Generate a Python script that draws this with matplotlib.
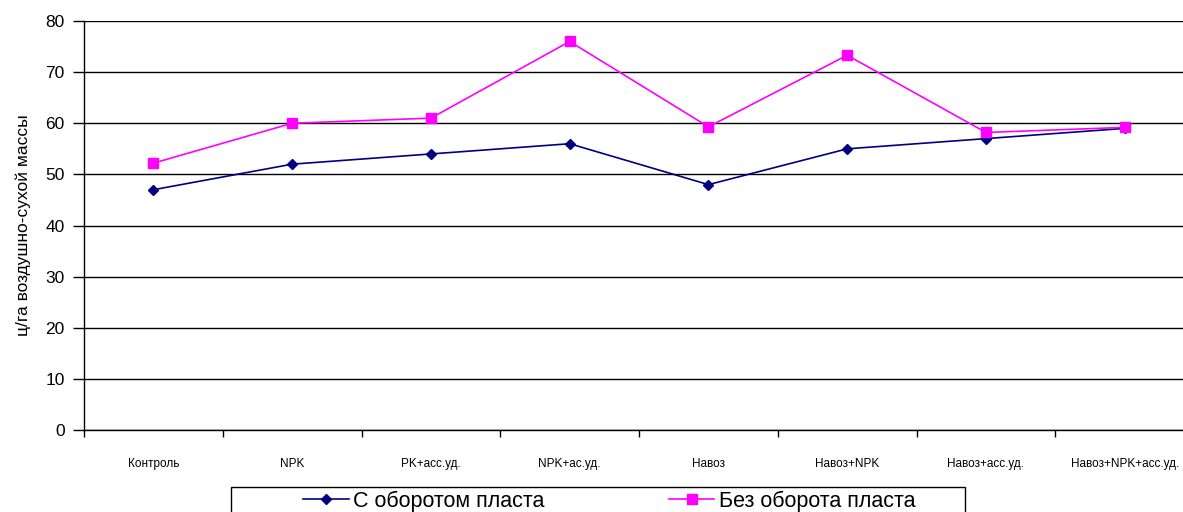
import numpy as np
import matplotlib
matplotlib.use('Agg')
import matplotlib.pyplot as plt
from matplotlib.patches import Rectangle

plt.rcParams['font.family'] = ['Liberation Sans', 'DejaVu Sans']

# варианты опыта и урожайность, ц/га
variants = ['Контроль', 'NPK', 'PK+асс.уд.', 'NPK+ас.уд.', 'Навоз',
            'Навоз+NPK', 'Навоз+асс.уд.', 'Навоз+NPK+асс.уд.']
s_oborotom = [47, 52, 54, 56, 48, 55, 57, 59]
bez_oborota = [52.2, 60, 61, 76, 59.3, 73.3, 58.2, 59.2]

fig = plt.figure(figsize=(11.83, 5.12), dpi=100)
ax = fig.add_axes([0.071, 0.160, 0.929, 0.799])

x = np.arange(len(variants))
ax.plot(x, s_oborotom, color='#000080', lw=1.2, marker='D', ms=5.5,
        label='С оборотом пласта')
ax.plot(x, bez_oborota, color='#FF00FF', lw=1.2, marker='s', ms=6.5,
        label='Без оборота пласта')

ax.set_yticks(range(0, 81, 10))
ax.yaxis.grid(True, color='black', lw=1)
ax.set_axisbelow(True)

# подписи по центрам, засечки на границах категорий
ax.set_xticks(x)
ax.set_xticklabels(variants, fontsize=8.5)
ax.set_xticks(np.arange(-0.5, 8, 1), minor=True)
ax.set_xlim(-0.5, 7.42)
ax.set_ylim(0, 80)
ax.tick_params(axis='x', which='major', length=0, pad=20)
ax.tick_params(axis='x', which='minor', length=5, width=1, direction='out')
ax.tick_params(axis='y', labelsize=12.5, length=8, width=1,
               direction='out', pad=6)

for s in ['top', 'right']:
    ax.spines[s].set_visible(False)
ax.spines['left'].set_linewidth(1)
ax.spines['bottom'].set_linewidth(1)

ax.set_ylabel('ц/га воздушно-сухой массы', fontsize=12.5, labelpad=10)

# легенда без рамки, рамку рисуем отдельно (уходит за нижний край)
leg = fig.legend(loc='center', ncol=2, bbox_to_anchor=(0.515, 0.021),
                 fontsize=15.5, frameon=False, handlelength=2.1,
                 handletextpad=0.2, columnspacing=5.8, borderaxespad=0)
fig.add_artist(Rectangle((0.195, -0.05), 0.621, 0.0987,
                         transform=fig.transFigure, fill=False,
                         edgecolor='black', lw=1))

fig.savefig('out.png', dpi=100)
